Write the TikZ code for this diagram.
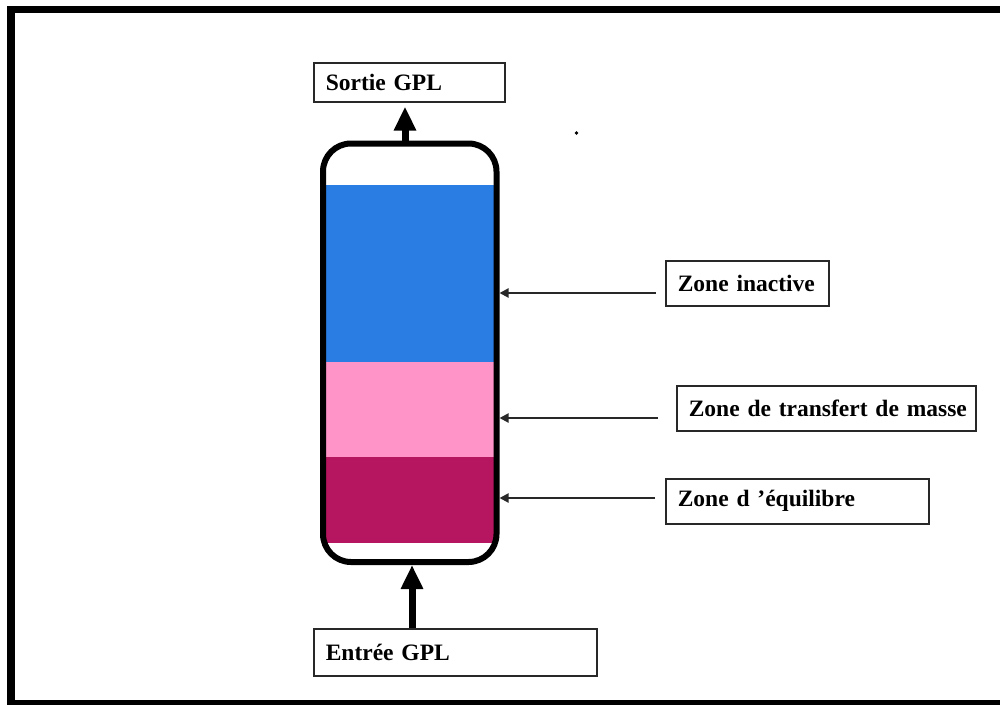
\documentclass[tikz,border=0pt]{standalone}
\usepackage{fontspec}
\setmainfont{Liberation Serif}
\usetikzlibrary{arrows.meta,positioning}
\definecolor{inactiveblue}{RGB}{42,125,226}
\definecolor{transferpink}{RGB}{255,148,200}
\definecolor{equilibremagenta}{RGB}{182,22,96}
\definecolor{linegray}{RGB}{40,40,40}
\tikzset{
    % Define standard node styles
    labelbox/.style={
        rectangle, draw=linegray, line width=1.6pt, fill=white,
        font=\fontsize{23.5}{28}\selectfont\bfseries,
        align=left, inner xsep=12pt, inner ysep=0pt, anchor=north west
    },
    zonebox/.style={
        rectangle, draw=none, minimum width=173.5pt,
        inner sep=0pt, outer sep=0pt
    },
    columnbox/.style={
        rectangle, draw=black, line width=6pt, rounded corners=28pt,
        minimum width=173.5pt, minimum height=418.5pt, inner sep=0pt
    },
    flowarrow/.style={
        -{Triangle[length=24pt,width=21pt]}, line width=7pt, black
    },
    pointer/.style={
        -{Triangle[length=9pt,width=9pt]}, line width=2pt, linegray
    }
}
\begin{document}
\begin{tikzpicture}[x=1pt, y=-1pt]
\useasboundingbox (0,0) rectangle (1000,704);

% Outer frame
\draw[line width=7.5pt] (11,9.5) rectangle (1004,704);

% Zones inside the column
\node[zonebox, fill=inactiveblue, minimum height=177pt] (inactive) at (409.75,273.5) {};
\node[zonebox, fill=transferpink, minimum height=94.5pt, below=0pt of inactive] (transfert) {};
\node[zonebox, fill=equilibremagenta, minimum height=86.5pt, below=0pt of transfert] (equilibre) {};

% Column shell
\node[columnbox] (col) at (409.75,352.75) {};

% Inlet and outlet
\node[labelbox, text width=167pt, minimum height=39pt] (sortie) at (313,62) {\mbox{Sortie GPL}};
\node[labelbox, text width=259pt, minimum height=47pt] (entree) at (313,628) {\mbox{Entrée GPL}};

\coordinate (outx) at (405,0);
\coordinate (inx) at (412,0);
\draw[flowarrow, shorten >=4pt] (col.north -| outx) -- (sortie.south -| outx);
\draw[flowarrow] (entree.north -| inx) -- (col.south -| inx);

% Zone labels
\node[labelbox, text width=139pt, minimum height=45pt] (lblinactive) at (665,260) {\mbox{Zone inactive}};
\node[labelbox, text width=275pt, minimum height=45pt] (lbltransfert) at (676,385) {\mbox{Zone de transfert de masse}};
\node[labelbox, text width=239pt, minimum height=45pt] (lblequilibre) at (665,478) {\mbox{Zone d 'équilibre}};

\coordinate (tailA) at (656,293);
\coordinate (tailB) at (658,418);
\coordinate (tailC) at (655,498);
\draw[pointer] (tailA) -- (tailA -| col.east);
\draw[pointer] (tailB) -- (tailB -| col.east);
\draw[pointer] (tailC) -- (tailC -| col.east);

% stray mark
\fill (576.5,133) circle (1.8pt);

\end{tikzpicture}
\end{document}
